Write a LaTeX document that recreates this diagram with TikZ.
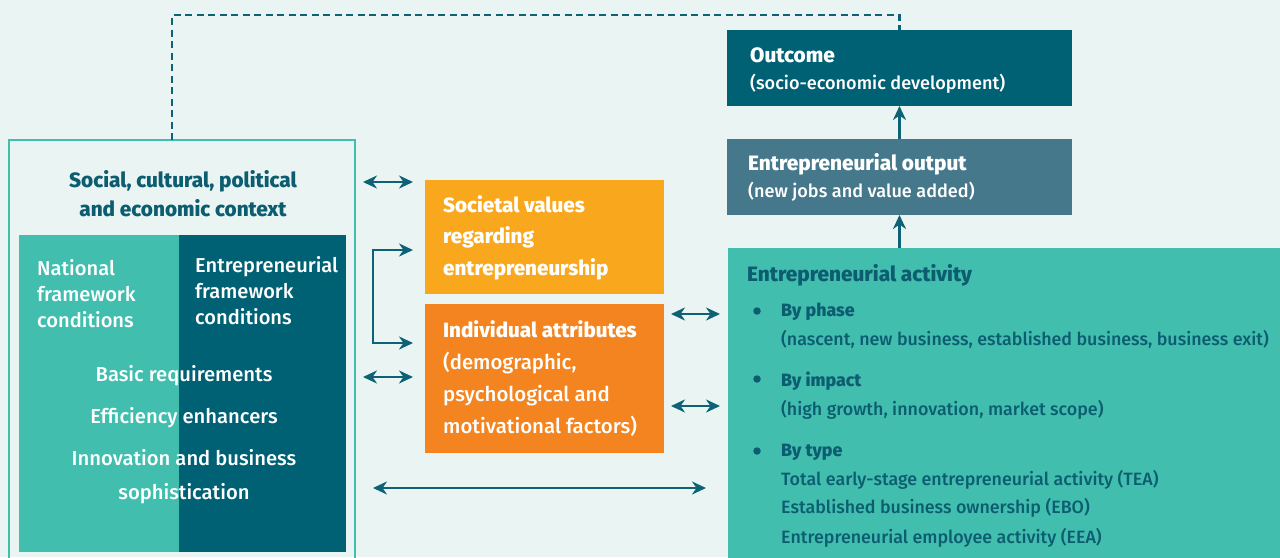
\documentclass[tikz,border=0pt]{standalone}
\usepackage{fontspec}
\setmainfont{Fira Sans}[UprightFont=* Medium,BoldFont=* ExtraBold]
\usetikzlibrary{arrows.meta,calc}
\definecolor{bg}{HTML}{EAF4F3}
\definecolor{tealL}{HTML}{42BEAF}
\definecolor{tealD}{HTML}{006174}
\definecolor{lineC}{HTML}{0E6275}
\definecolor{orgL}{HTML}{F9A81D}
\definecolor{orgD}{HTML}{F4841F}
\definecolor{outC}{HTML}{45788A}
\definecolor{txtD}{HTML}{0C5D70}
\begin{document}
\begin{tikzpicture}[x=1pt,y=-1pt,
  box/.style={anchor=north west,inner sep=0pt,outer sep=0pt},
  wt/.style={anchor=base west,inner sep=0pt,text=white,font=\fontsize{20.1}{24}\selectfont},
  wc/.style={anchor=base,inner sep=0pt,text=white,font=\fontsize{20.2}{24}\selectfont},
  bt/.style={anchor=base west,inner sep=0pt,text=white,font=\fontsize{20.4}{24}\selectfont},
  acttxt/.style={anchor=base west,inner sep=0pt,text=txtD,font=\fontsize{17.85}{21}\selectfont},
  hd/.style={font=\bfseries\fontsize{20.8}{24}\selectfont},
  tip/.tip={Stealth[length=14pt,width=13pt,inset=4.5pt]},
  dbl/.style={lineC,line width=2.6pt,tip-tip},
  sgl/.style={lineC,line width=2.6pt,-tip},
  bullet/.style={circle,fill=txtD,inner sep=0pt,minimum size=7.5pt}
]
\fill[bg] (0,0) rectangle (1280,557);
\useasboundingbox (0,0) rectangle (1280,557);

% left context frame
\node[box,draw=tealL,line width=2.4pt,minimum width=346pt,minimum height=440pt] (ctx) at (9,140) {};
\node[box,fill=tealL,minimum width=160pt,minimum height=317pt] (nat) at (19,235) {};
\node[box,fill=tealD,minimum width=167pt,minimum height=317pt] (ent) at (179,235) {};
\node[anchor=base,inner sep=0pt,text=txtD,font=\bfseries\fontsize{20.75}{24}\selectfont] (ctxt1) at (183,187) {Social, cultural, political};
\node[anchor=base,inner sep=0pt,text=txtD,font=\bfseries\fontsize{20.75}{24}\selectfont] (ctxt2) at (183,216) {and economic context};
\node[wt] (n1) at (37,275) {National};
\node[wt] (n2) at (37,301) {framework};
\node[wt] (n3) at (37,327) {conditions};
\node[wt] (e1) at (195,272) {Entrepreneurial};
\node[wt] (e2) at (195,298) {framework};
\node[wt] (e3) at (195,324) {conditions};
\node[wc] (c1) at (184,381) {Basic requirements};
\node[wc] (c2) at (184,423) {Efficiency enhancers};
\node[wc] (c3) at (184,465) {Innovation and business};
\node[wc] (c4) at (184,499) {sophistication};

% orange boxes
\node[box,fill=orgL,minimum width=239pt,minimum height=114pt] (sv) at (425,180) {};
\node[box,fill=orgD,minimum width=239pt,minimum height=149pt] (ia) at (425,304) {};
\node[bt,font=\bfseries\fontsize{20.6}{24}\selectfont] (s1) at (443,212) {Societal values};
\node[bt,font=\bfseries\fontsize{20.6}{24}\selectfont] (s2) at (443,243) {regarding};
\node[bt,font=\bfseries\fontsize{20.6}{24}\selectfont] (s3) at (443,275) {entrepreneurship};
\node[bt,font=\bfseries\fontsize{20.6}{24}\selectfont] (i1) at (443,337) {Individual attributes};
\node[bt] (i2) at (443,369) {(demographic,};
\node[bt] (i3) at (443,401) {psychological and};
\node[bt] (i4) at (443,433) {motivational factors)};

% right column
\node[box,fill=tealD,minimum width=345pt,minimum height=76pt] (out) at (727,30) {};
\node[box,fill=outC,minimum width=345pt,minimum height=76pt] (op) at (727,139) {};
\node[box,fill=tealL,minimum width=560pt,minimum height=320pt] (act) at (728,248) {};
\node[anchor=base west,inner sep=0pt,text=white,hd] (o1) at (750,62) {Outcome};
\node[anchor=base west,inner sep=0pt,text=white,font=\fontsize{18.1}{21}\selectfont] (o2) at (750,89) {(socio-economic development)};
\node[anchor=base west,inner sep=0pt,text=white,hd] (p1) at (748,170) {Entrepreneurial output};
\node[anchor=base west,inner sep=0pt,text=white,font=\fontsize{18.1}{21}\selectfont] (p2) at (748,197) {(new jobs and value added)};
\node[acttxt,hd] (a0) at (747,281) {Entrepreneurial activity};
\node[bullet] (b1) at (757,311) {};
\node[bullet] (b2) at (757,379) {};
\node[bullet] (b3) at (757,451) {};
\node[acttxt,font=\bfseries\fontsize{17.8}{21}\selectfont] (a1) at (781,316) {By phase};
\node[acttxt] (a2) at (781,345) {(nascent, new business, established business, business exit)};
\node[acttxt,font=\bfseries\fontsize{17.8}{21}\selectfont] (a3) at (781,386) {By impact};
\node[acttxt] (a4) at (781,415) {(high growth, innovation, market scope)};
\node[acttxt,font=\bfseries\fontsize{17.8}{21}\selectfont] (a5) at (781,456) {By type};
\node[acttxt] (a6) at (781,485) {Total early-stage entrepreneurial activity (TEA)};
\node[acttxt] (a7) at (781,513) {Established business ownership (EBO)};
\node[acttxt] (a8) at (781,543) {Entrepreneurial employee activity (EEA)};

% connectors
\coordinate (dstart) at (172,140);
\draw[lineC,line width=2.6pt,dash pattern=on 7pt off 4.5pt] (dstart) -- (172,15) -- (out.north |- 0,15) -- (out.north);
\draw[sgl] (act.north -| op.south) -- (op.south);
\draw[sgl] (op.north) -- (out.south);
\draw[dbl] ($(ctx.east |- 0,182)+(8,0)$) -- ($(sv.west |- 0,182)+(-12,0)$);
\draw[sgl] ($(sv.west |- 0,250)+(-52,0)$) -- ($(sv.west |- 0,250)+(-12,0)$);
\draw[sgl] ($(sv.west |- 0,250)+(-52,-1.3)$) -- ($(ia.west |- 0,343)+(-52,0)$) -- ($(ia.west |- 0,343)+(-12,0)$);
\draw[dbl] ($(ctx.east |- 0,377)+(8,0)$) -- ($(ia.west |- 0,377)+(-12,0)$);
\draw[dbl] ($(ia.east |- 0,314)+(7,0)$) -- ($(act.west |- 0,314)+(-8,0)$);
\draw[dbl] ($(ia.east |- 0,406)+(7,0)$) -- ($(act.west |- 0,406)+(-8,0)$);
\draw[dbl] ($(ctx.east |- 0,488)+(18,0)$) -- ($(act.west |- 0,488)+(-22,0)$);
\end{tikzpicture}
\end{document}
